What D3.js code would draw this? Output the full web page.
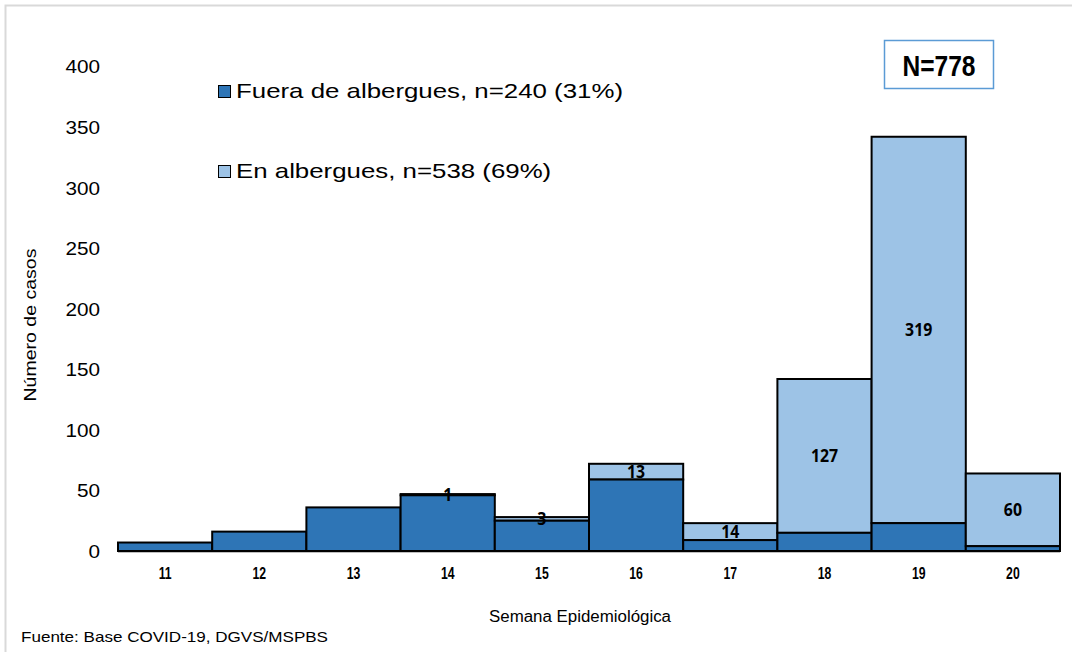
<!DOCTYPE html>
<html><head><meta charset="utf-8">
<script src="https://cdn.jsdelivr.net/npm/d3@7"></script>
<style>
html,body{margin:0;padding:0;background:#fff;}
svg{display:block;}
</style></head>
<body>
<svg id="c" width="1072" height="652"></svg>
<script>
const weeks = ["11","12","13","14","15","16","17","18","19","20"];
const fuera = [7, 16, 36, 46, 25, 59, 9, 15, 23, 4];
const enAlbergues = [0, 0, 0, 1, 3, 13, 14, 127, 319, 60];
const yTicks = [0, 50, 100, 150, 200, 250, 300, 350, 400];
const legendLabels = ["Fuera de albergues, n=240 (31%)", "En albergues, n=538 (69%)"];
const totalLabel = "N=778";

const svg = d3.select("#c");
const sans = "'Liberation Sans',Arial,sans-serif";
const dark = "#2E75B6", light = "#9DC3E6";

function stretch(sel, f) {
  sel.each(function(){
    const w = this.getComputedTextLength();
    d3.select(this).attr("textLength", w * f).attr("lengthAdjust","spacingAndGlyphs");
  });
}

// frame
svg.append("path").attr("d","M5.5,652 V5.5 H1072").attr("fill","none").attr("stroke","#d9d9d9").attr("stroke-width",2);

const x = d3.scaleBand().domain(weeks).range([118, 1060]).padding(0);
const y = d3.scaleLinear().domain([0, 400]).range([551, 66.5]);

// x axis baseline
svg.append("line").attr("x1",118).attr("x2",1060).attr("y1",y(0)+1).attr("y2",y(0)+1)
  .attr("stroke","#bfbfbf").attr("stroke-width",2);

// y axis
const ya = svg.append("g").attr("transform","translate(100,0)")
  .call(d3.axisLeft(y).tickValues(yTicks).tickSize(0).tickPadding(0));
ya.select(".domain").remove();
ya.selectAll("text").attr("font-family",sans).attr("font-size",18).attr("fill","#000").attr("dy","0.36em");
stretch(ya.selectAll("text"), 1.15);

// x axis
const xa = svg.append("g").attr("transform",`translate(0,${y(0)})`)
  .call(d3.axisBottom(x).tickSize(0).tickPadding(16));
xa.select(".domain").remove();
xa.selectAll("text").attr("font-family",sans).attr("font-size",17).attr("font-weight","bold").attr("fill","#000");
stretch(xa.selectAll("text"), 0.72);

// bars
const data = weeks.map((w,i)=>({w, a: fuera[i], b: enAlbergues[i]}));
const g = svg.append("g");
data.forEach(d=>{
  if (d.b > 0) {
    g.append("rect").attr("x",x(d.w)).attr("width",x.bandwidth())
      .attr("y",y(d.a+d.b)).attr("height",y(d.a)-y(d.a+d.b))
      .attr("fill",light).attr("stroke","#000").attr("stroke-width",2);
  }
  g.append("rect").attr("x",x(d.w)).attr("width",x.bandwidth())
    .attr("y",y(d.a)).attr("height",y(0)-y(d.a))
    .attr("fill",dark).attr("stroke","#000").attr("stroke-width",2);
});
// labels for light segments
const vl = svg.append("g");
data.filter(d=>d.b>0).forEach(d=>{
  const cy = (y(d.a) + y(d.a+d.b))/2;
  vl.append("text").attr("x",x(d.w)+x.bandwidth()/2).attr("y",cy).attr("dy","0.36em")
    .attr("text-anchor","middle").attr("font-family","'Open Sans',Lato,sans-serif")
    .attr("font-weight","bold").attr("font-size",18).attr("fill","#000").text(d.b);
});
stretch(vl.selectAll("text"), 0.88);

// legend
const legColors = [dark, light];
const legY = [98, 178];
const lg = svg.append("g");
legendLabels.forEach((t,i)=>{
  lg.append("rect").attr("x",218.5).attr("y",legY[i]-12.5).attr("width",12).attr("height",12)
    .attr("fill",legColors[i]).attr("stroke","#000").attr("stroke-width",1);
  lg.append("text").attr("x",236).attr("y",legY[i])
    .attr("font-family",sans).attr("font-size",21).attr("fill","#000").text(t);
});
stretch(lg.selectAll("text"), 1.23);

// N box
svg.append("rect").attr("x",884.5).attr("y",40.5).attr("width",109).attr("height",48)
  .attr("fill","#fff").attr("stroke","#5B9BD5").attr("stroke-width",1.5);
const nt = svg.append("text").attr("x",939).attr("y",76).attr("text-anchor","middle")
  .attr("font-family",sans).attr("font-weight","bold").attr("font-size",29).attr("fill","#000").text(totalLabel);
nt.attr("textLength",73).attr("lengthAdjust","spacingAndGlyphs");

// axis titles
svg.append("text").attr("transform","translate(36,325) rotate(-90)").attr("text-anchor","middle")
  .attr("font-family",sans).attr("font-size",17).attr("fill","#000")
  .attr("textLength",153).attr("lengthAdjust","spacingAndGlyphs").text("Número de casos");
svg.append("text").attr("x",580).attr("y",622).attr("text-anchor","middle")
  .attr("font-family",sans).attr("font-size",16).attr("fill","#000")
  .attr("textLength",182).attr("lengthAdjust","spacingAndGlyphs").text("Semana  Epidemiológica");
svg.append("text").attr("x",21).attr("y",642)
  .attr("font-family",sans).attr("font-size",15).attr("fill","#000")
  .attr("textLength",307).attr("lengthAdjust","spacingAndGlyphs").text("Fuente: Base COVID-19,  DGVS/MSPBS");
</script>
</body></html>
